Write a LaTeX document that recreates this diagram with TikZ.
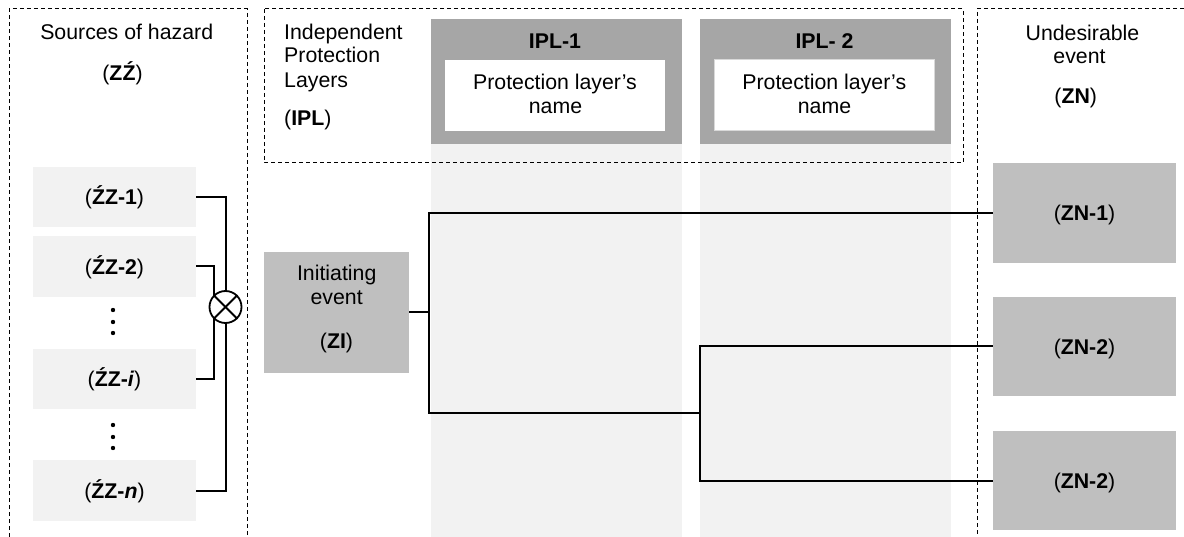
\documentclass[tikz,border=0pt]{standalone}
\usepackage{fontspec}
\setmainfont{Liberation Sans}
\definecolor{hdrgray}{RGB}{166,166,166}
\definecolor{colgray}{RGB}{242,242,242}
\definecolor{evtgray}{RGB}{191,191,191}
\begin{document}
\begin{tikzpicture}[x=1pt,y=-1pt,
  every node/.style={font=\fontsize{21.3}{24}\selectfont},
  lbl/.style={anchor=base, inner sep=0pt},
  box/.style={inner sep=0pt, draw=none},
  zzbox/.style={box, fill=colgray, minimum width=163pt, minimum height=60.5pt, text height=15.2pt, text depth=0pt},
  znbox/.style={box, fill=evtgray, minimum width=183pt, minimum height=99.5pt, text height=15.2pt, text depth=0pt},
  colbox/.style={box, fill=colgray, minimum width=251pt, minimum height=393pt},
  hdrbox/.style={box, fill=hdrgray, minimum width=251pt, minimum height=125pt},
  plbox/.style={box, fill=white, minimum width=220pt, minimum height=71pt},
  dashln/.style={line width=1pt, dash pattern=on 4pt off 3pt},
  conn/.style={line width=2pt},
  dotmark/.style={fill=black}
]
\useasboundingbox (0,0) rectangle (1184,537);

% IPL columns
\node[colbox] (col1) at (556.5,340.5) {};
\node[colbox] (col2) at (825.5,340.5) {};
\node[hdrbox] (hdr1) at (556.5,81.5) {};
\node[hdrbox] (hdr2) at (825.5,81.5) {};
\node[plbox] (pl1) at (555,95.5) {};
\node[plbox, draw=black!15, line width=1pt] (pl2) at (824.5,95.5) {};
\node[lbl] (ipl1) at (555,49) {\textbf{IPL-1}};
\node[lbl] (ipl2) at (824.5,49) {\textbf{IPL- 2}};
\node[lbl] (pl1a) at (555,89.3) {Protection layer’s};
\node[lbl] (pl1b) at (555.5,113.3) {name};
\node[lbl] (pl2a) at (824.3,89.3) {Protection layer’s};
\node[lbl] (pl2b) at (824.5,113.3) {name};

% dashed frames
\draw[dashln] (9,537) -- (9,9) -- (247,9) -- (247,537);
\draw[dashln] (264,9) rectangle (963,163);
\draw[dashln] (1184,9) -- (977,9) -- (977,537);

% headings
\node[lbl] (src) at (126.7,39.3) {Sources of hazard};
\node[lbl] (srcab) at (122.5,80.5) {(\textbf{ZŹ})};
\node[lbl, anchor=base west] (ind1) at (284,39.5) {Independent};
\node[lbl, anchor=base west] (ind2) at (284,62.6) {Protection};
\node[lbl, anchor=base west] (ind3) at (284,87.5) {Layers};
\node[lbl, anchor=base west] (ind4) at (284,125.6) {(\textbf{IPL})};
\node[lbl] (und1) at (1082.5,40.5) {Undesirable};
\node[lbl] (und2) at (1079.5,63.3) {event};
\node[lbl] (und3) at (1075.7,104) {(\textbf{ZN})};

% sources
\node[zzbox] (zz1) at (114.5,197) {(\textbf{ŹZ-1})};
\node[zzbox] (zz2) at (114.5,266.5) {(\textbf{ŹZ-2})};
\node[zzbox] (zzi) at (114.5,379) {(\textbf{ŹZ-\textit{i}})};
\node[zzbox] (zzn) at (114.5,490.5) {(\textbf{ŹZ-\textit{n}})};
\fill[dotmark] (113,310) circle (2.2pt) (113,322) circle (2.2pt) (113,333) circle (2.2pt);
\fill[dotmark] (113,425) circle (2.2pt) (113,437) circle (2.2pt) (113,448) circle (2.2pt);

\coordinate (m1) at (225.5,307);
\coordinate (m2) at (214,323);
\draw[conn] (zz1.east) -| (m1) |- (zzn.east);
\draw[conn] (zz2.east) -| (m2) |- (zzi.east);
\node[circle, draw, fill=white, line width=1.8pt, minimum size=32pt, inner sep=0pt] (ox) at (225.5,307) {};
\draw[line width=1.8pt] (ox.north west) -- (ox.south east);
\draw[line width=1.8pt] (ox.north east) -- (ox.south west);

% initiating event
\node[box, fill=evtgray, minimum width=145pt, minimum height=121pt] (zi) at (336.5,312.5) {};
\node[lbl] (zia) at (336.7,281) {Initiating};
\node[lbl] (zib) at (336.7,304.3) {event};
\node[lbl] (zic) at (336.5,348.3) {(\textbf{ZI})};

% undesirable events
\node[znbox] (zn1) at (1084.5,213) {(\textbf{ZN-1})};
\node[znbox] (zn2) at (1084.5,346.5) {(\textbf{ZN-2})};
\node[znbox] (zn3) at (1084.5,480.5) {(\textbf{ZN-2})};

% event tree
\coordinate (j1) at (429,312.5);
\coordinate (j2) at (700,413);
\draw[conn] (zi.east) -- (j1);
\draw[conn] (zn1.west) -| (j1) |- (j2);
\draw[conn] (zn2.west) -| (j2) |- (zn3.west);
\end{tikzpicture}
\end{document}
